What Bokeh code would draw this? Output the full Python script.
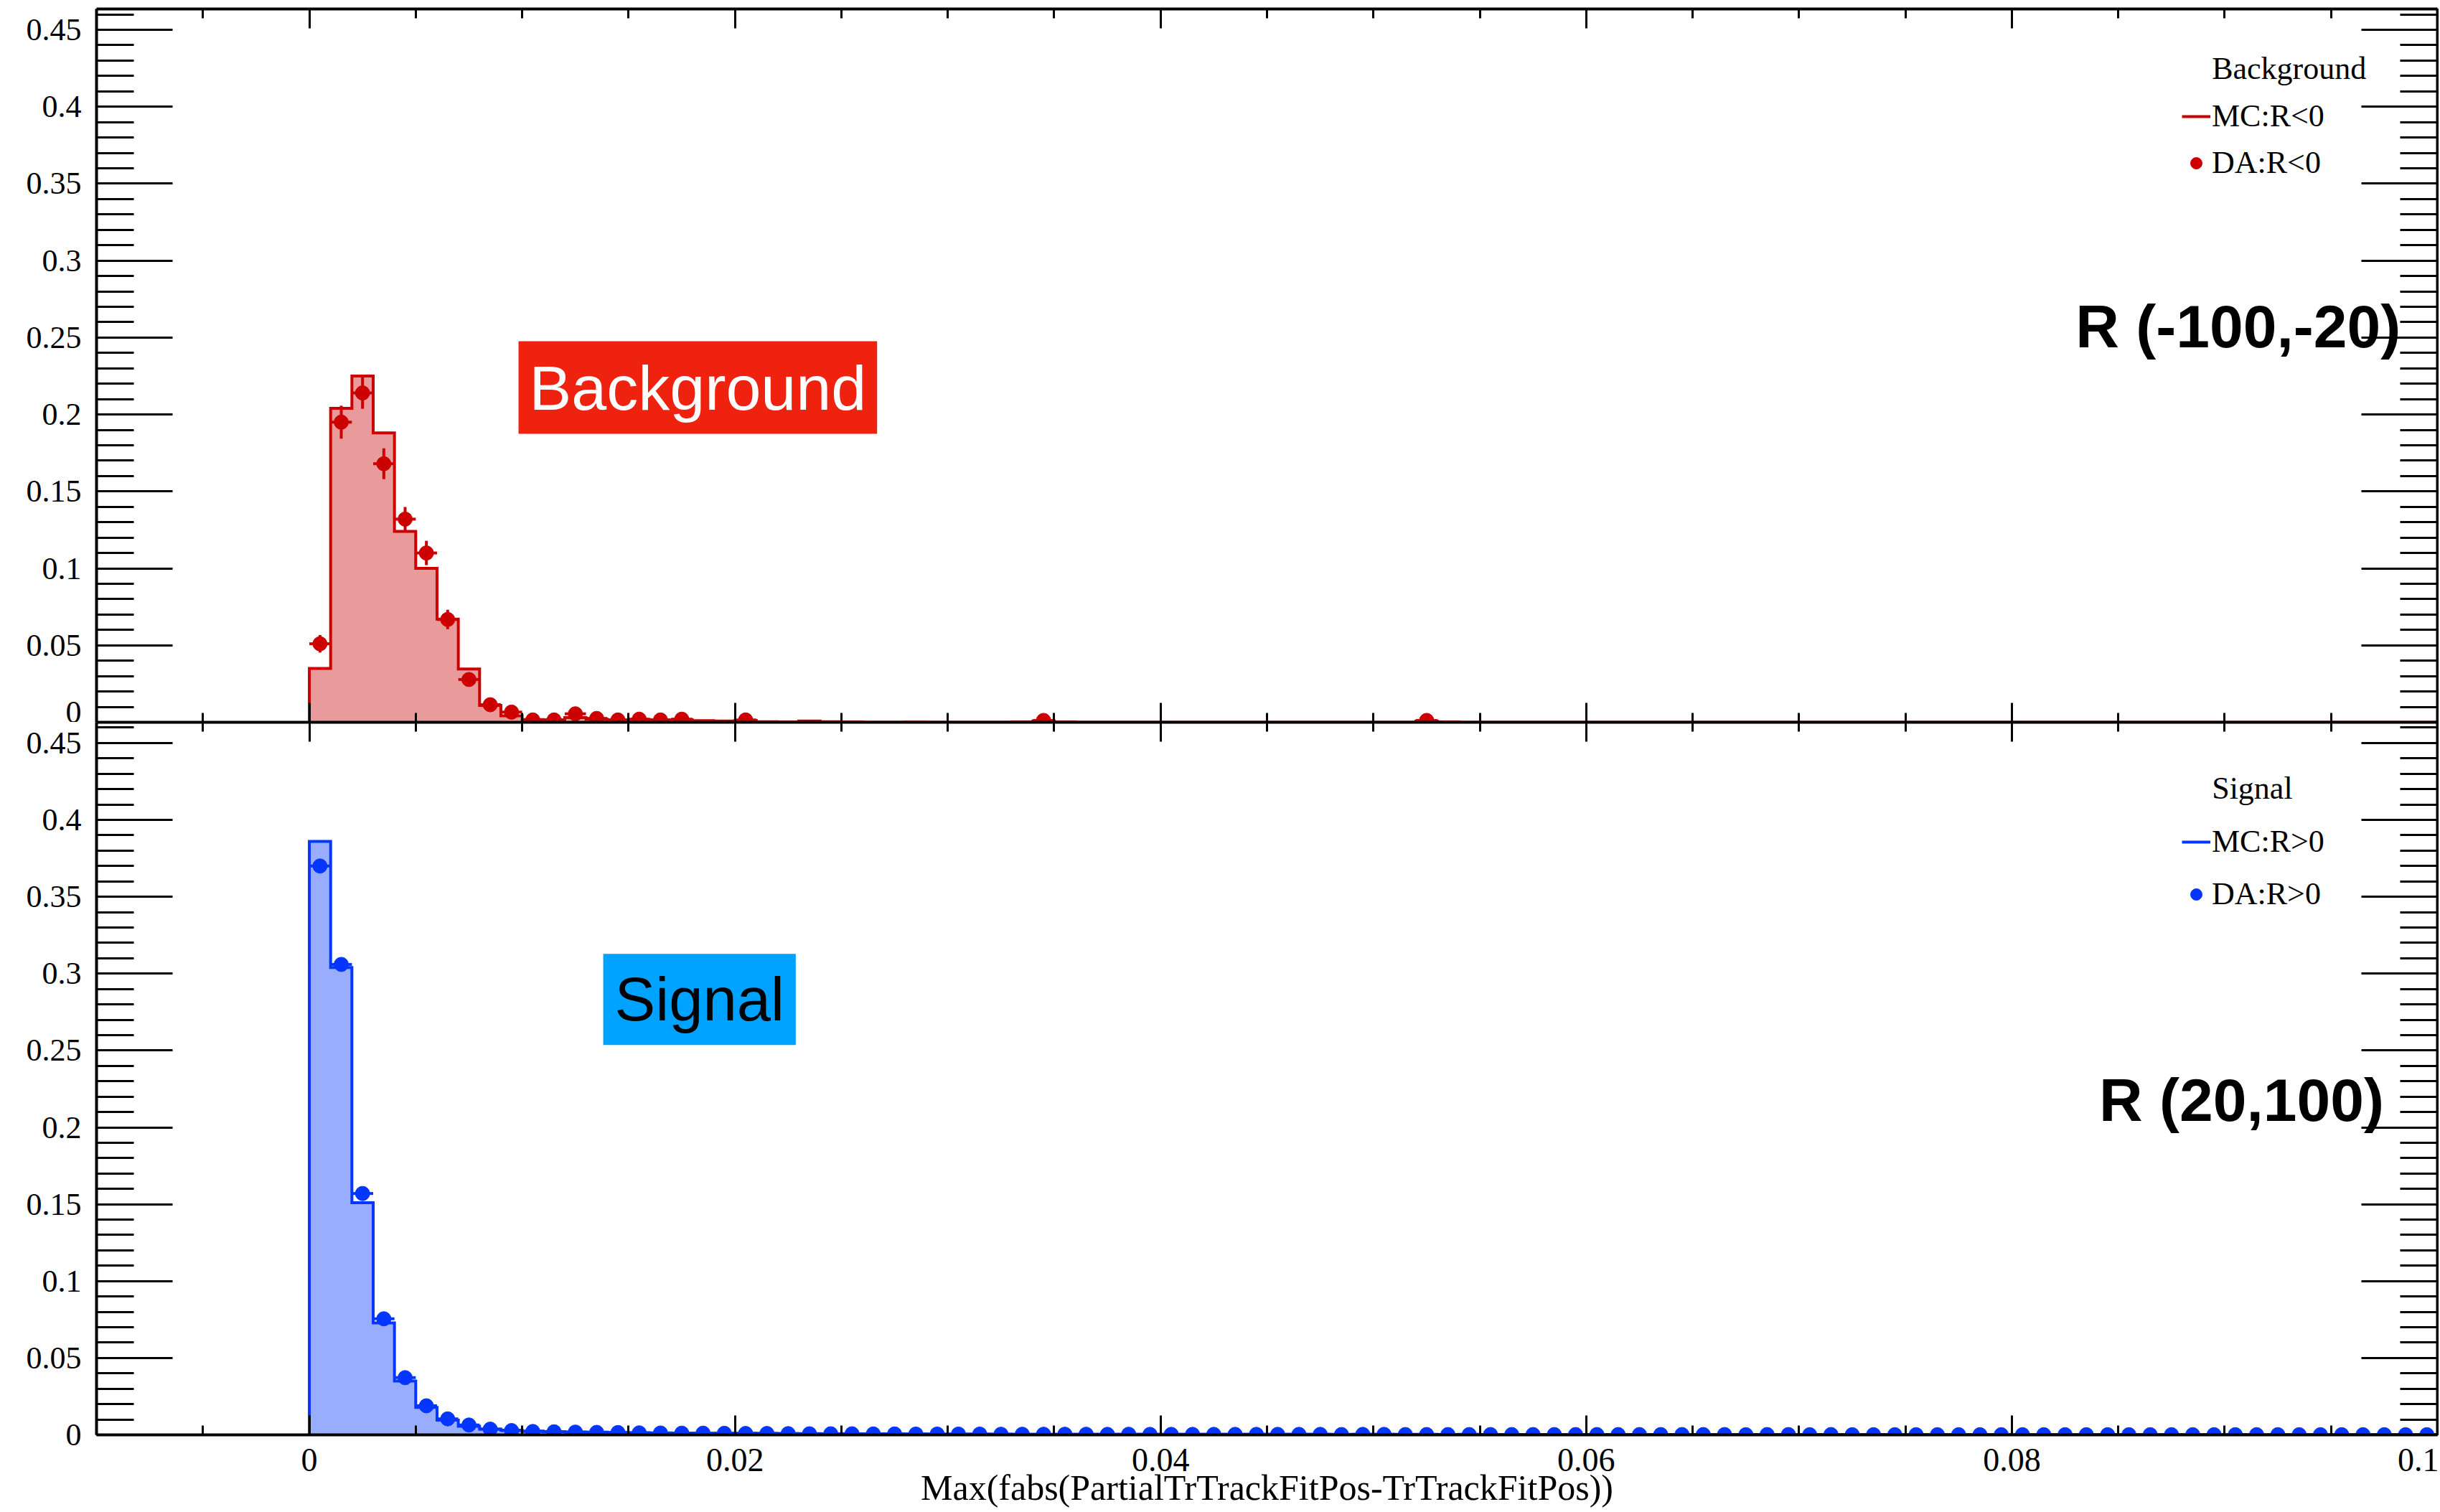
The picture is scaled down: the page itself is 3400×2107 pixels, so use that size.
import numpy as np
from bokeh.plotting import figure
from bokeh.models import Range1d, LinearAxis, FixedTicker, Label, Legend, LegendItem
from bokeh.layouts import column
from bokeh.embed import file_html
from bokeh.resources import INLINE

# ---------------- data ----------------
bin_edges = [round(0.001 * i, 3) for i in range(101)]
bin_centers = [round(0.001 * i + 0.0005, 4) for i in range(100)]

bkg_mc = [
    0.035, 0.204, 0.225, 0.188, 0.124, 0.100, 0.067, 0.0346, 0.0109, 0.0042,
    0.0018, 0.0016, 0.0030, 0.0020, 0.0015, 0.0018, 0.0014, 0.0015, 0.0010, 0.0008,
    0.0012, 0.0003, 0.0002, 0.0008, 0.0004, 0.0002, 0.0, 0.0, 0.0001, 0.0,
    0.0, 0.0, 0.0, 0.0002, 0.0008, 0.0002, 0.0, 0.0, 0.0, 0.0,
    0.0, 0.0, 0.0, 0.0, 0.0, 0.0, 0.0, 0.0, 0.0, 0.0,
    0.0, 0.0, 0.0008, 0.0002, 0.0, 0.0, 0.0, 0.0, 0.0, 0.0,
    0.0, 0.0, 0.0, 0.0, 0.0, 0.0, 0.0, 0.0, 0.0, 0.0,
    0.0, 0.0, 0.0, 0.0, 0.0, 0.0, 0.0, 0.0, 0.0, 0.0,
    0.0, 0.0, 0.0, 0.0, 0.0, 0.0, 0.0, 0.0, 0.0, 0.0,
    0.0, 0.0, 0.0, 0.0, 0.0, 0.0, 0.0, 0.0, 0.0, 0.0,
]
bkg_da_bin = [0, 1, 2, 3, 4, 5, 6, 7, 8, 9, 10, 11, 12, 13, 14, 15, 16, 17, 20, 34, 52]
bkg_da_val = [0.051, 0.195, 0.214, 0.168, 0.132, 0.110, 0.0668, 0.0278, 0.0114, 0.0066,
              0.0015, 0.0015, 0.0055, 0.0025, 0.0015, 0.0020, 0.0015, 0.0020, 0.0015, 0.0012, 0.0012]
bkg_da_err = [0.0057, 0.0107, 0.0103, 0.0100, 0.0079, 0.0079, 0.0063, 0.0040, 0.0025, 0.0020,
              0.0010, 0.0010, 0.0020, 0.0012, 0.0010, 0.0012, 0.0010, 0.0012, 0.0010, 0.0010, 0.0010]

sig_mc = [
    0.386, 0.304, 0.151, 0.0728, 0.035, 0.0179, 0.0096, 0.0056, 0.0037, 0.0030,
    0.0024, 0.0021, 0.0019, 0.0017, 0.0015, 0.0014, 0.0013, 0.0012, 0.0011, 0.0010,
    0.0010, 0.0009, 0.0008, 0.0008, 0.0007, 0.0007, 0.0006, 0.0006, 0.0006, 0.0005,
    0.0005, 0.0005, 0.0005, 0.0004, 0.0004, 0.0004, 0.0004, 0.0004, 0.0004, 0.0003,
    0.0003, 0.0003, 0.0003, 0.0003, 0.0003, 0.0003, 0.0003, 0.0003, 0.0003, 0.0003,
    0.0003, 0.0003, 0.0003, 0.0002, 0.0003, 0.0002, 0.0002, 0.0002, 0.0002, 0.0002,
    0.0002, 0.0002, 0.0002, 0.0002, 0.0002, 0.0002, 0.0002, 0.0002, 0.0002, 0.0002,
    0.0002, 0.0002, 0.0001, 0.0002, 0.0001, 0.0001, 0.0001, 0.0001, 0.0001, 0.0001,
    0.0001, 0.0001, 0.0001, 0.0001, 0.0001, 0.0001, 0.0001, 0.0001, 0.0001, 0.0001,
    0.0001, 0.0001, 0.0001, 0.0001, 0.0001, 0.0001, 0.0001, 0.0001, 0.0001, 0.0001,
]
sig_da = [
    0.370, 0.306, 0.157, 0.0755, 0.0372, 0.0189, 0.0104, 0.0064, 0.0037, 0.0028,
    0.0022, 0.0020, 0.0018, 0.0016, 0.0015, 0.0013, 0.0012, 0.0011, 0.0011, 0.0010,
    0.0009, 0.0009, 0.0008, 0.0007, 0.0007, 0.0007, 0.0006, 0.0006, 0.0005, 0.0005,
    0.0005, 0.0005, 0.0004, 0.0004, 0.0004, 0.0004, 0.0004, 0.0003, 0.0004, 0.0003,
    0.0003, 0.0003, 0.0003, 0.0003, 0.0003, 0.0003, 0.0003, 0.0003, 0.0002, 0.0003,
    0.0003, 0.0002, 0.0002, 0.0002, 0.0002, 0.0002, 0.0002, 0.0002, 0.0002, 0.0002,
    0.0002, 0.0002, 0.0002, 0.0002, 0.0002, 0.0002, 0.0002, 0.0001, 0.0002, 0.0002,
    0.0001, 0.0002, 0.0001, 0.0001, 0.0001, 0.0001, 0.0001, 0.0001, 0.0001, 0.0001,
    0.0001, 0.0001, 0.0001, 0.0001, 0.0001, 0.0001, 0.0001, 0.0001, 0.0001, 0.0001,
    0.0001, 0.0001, 0.0001, 0.0001, 0.0001, 0.0001, 0.0001, 0.0001, 0.0001, 0.0001,
]
sig_da_err_first = [0.0030, 0.0028, 0.0020, 0.0014, 0.0010, 0.0007, 0.0005, 0.0004, 0.0003, 0.0003]

y_ticks = [0, 0.05, 0.1, 0.15, 0.2, 0.25, 0.3, 0.35, 0.4, 0.45]
y_tick_labels = ["0", "0.05", "0.1", "0.15", "0.2", "0.25", "0.3", "0.35", "0.4", "0.45"]
x_ticks = [0, 0.02, 0.04, 0.06, 0.08, 0.1]
x_tick_labels = ["0", "0.02", "0.04", "0.06", "0.08", "0.1"]
x_title = "Max(fabs(PartialTrTrackFitPos-TrTrackFitPos))"

# ---------------- style ----------------
RED_LINE, RED_FILL = "#CC0000", "#E99A9A"
BLUE_LINE, BLUE_FILL = "#0536FF", "#99ADFF"
SERIF = "Liberation Serif"
SANS = "Liberation Sans"

X_RANGE = (-0.01, 0.1)
Y_RANGE = (0.0, 0.4635)
x_minor = [round(v, 3) for v in np.arange(-0.01, 0.1001, 0.005)]
y_minor = [round(v, 3) for v in np.arange(0.0, 0.4601, 0.01)]

FIG_W = 3398


def x_ticker():
    return FixedTicker(ticks=x_ticks, minor_ticks=x_minor)


def y_ticker():
    return FixedTicker(ticks=y_ticks, minor_ticks=y_minor)


def style_axis(ax, major_in, minor_in, labels, font_size="44px", standoff=0):
    ax.major_tick_in = major_in
    ax.major_tick_out = 0
    ax.minor_tick_in = minor_in
    ax.minor_tick_out = 0
    ax.axis_line_width = 4
    ax.axis_line_color = "black"
    ax.major_tick_line_width = 3
    ax.minor_tick_line_width = 3
    ax.major_tick_line_color = "black"
    ax.minor_tick_line_color = "black"
    ax.major_label_standoff = standoff
    if labels:
        ax.major_label_text_font = SERIF
        ax.major_label_text_font_size = font_size
        ax.major_label_text_color = "black"
    else:
        ax.major_label_text_font_size = "0px"
        ax.major_label_text_alpha = 0


def make_panel(height, border_top, border_bottom, x_labels):
    p = figure(width=FIG_W, height=height,
               x_range=Range1d(*X_RANGE), y_range=Range1d(*Y_RANGE),
               output_backend="svg", toolbar_location=None,
               min_border_left=134, min_border_right=2,
               min_border_top=border_top, min_border_bottom=border_bottom)
    p.grid.visible = False
    p.outline_line_color = None
    p.background_fill_color = "white"
    p.border_fill_color = "white"

    xa = p.xaxis[0]
    xa.ticker = x_ticker()
    if x_labels:
        style_axis(xa, 27, 13, True, "46px", standoff=19)
        xa.major_label_overrides = dict(zip(x_ticks, x_tick_labels))
        xa.axis_label = x_title
        xa.axis_label_text_font = SERIF
        xa.axis_label_text_font_size = "50px"
        xa.axis_label_text_font_style = "normal"
        xa.axis_label_text_color = "black"
        xa.axis_label_standoff = -8
    else:
        style_axis(xa, 27, 13, False)

    ya = p.yaxis[0]
    ya.ticker = y_ticker()
    style_axis(ya, 106, 52, True, "44px", standoff=21)
    ya.major_label_overrides = dict(zip(y_ticks, y_tick_labels))

    top_ax = LinearAxis(ticker=x_ticker())
    style_axis(top_ax, 27, 13, False)
    p.add_layout(top_ax, "above")

    right_ax = LinearAxis(ticker=y_ticker())
    style_axis(right_ax, 106, 52, False)
    p.add_layout(right_ax, "right")
    return p


def step_outline(vals):
    v = np.asarray(vals, dtype=float)
    xs = np.repeat(np.asarray(bin_edges), 2)
    ys = np.concatenate([[0.0], np.repeat(v, 2), [0.0]])
    return xs, ys


def draw_hist(p, mc, da_x, da_y, da_err, line_color, fill_color):
    xs, ys = step_outline(mc)
    p.patch(xs, ys, fill_color=fill_color, line_color=None)
    line_r = p.line(xs, ys, line_color=line_color, line_width=4, line_join="miter")
    da_x = np.asarray(da_x)
    da_y = np.asarray(da_y)
    da_err = np.asarray(da_err)
    p.segment(x0=da_x, y0=da_y - da_err, x1=da_x, y1=da_y + da_err,
              line_color=line_color, line_width=4)
    p.segment(x0=da_x - 0.0005, y0=da_y, x1=da_x + 0.0005, y1=da_y,
              line_color=line_color, line_width=4)
    sc_r = p.scatter(da_x, da_y, size=20, marker="circle",
                     fill_color=line_color, line_color=line_color)
    return line_r, sc_r


def add_legend(p, title, title_y, labels, renderers, loc, spacing):
    p.add_layout(Label(x=0.0894, y=title_y, text=title, text_font=SERIF,
                       text_font_size="44px", text_color="black",
                       text_baseline="alphabetic", text_align="left"))
    leg = Legend(items=[LegendItem(label=labels[0], renderers=[renderers[0]]),
                        LegendItem(label=labels[1], renderers=[renderers[1]])],
                 location=loc)
    leg.label_text_font = SERIF
    leg.label_text_font_size = "44px"
    leg.label_text_color = "black"
    leg.glyph_width = 40
    leg.glyph_height = 50
    leg.label_standoff = 2
    leg.spacing = spacing
    leg.padding = 0
    leg.margin = 0
    leg.border_line_color = None
    leg.background_fill_alpha = 0
    p.add_layout(leg)


# ---------------- top panel: background ----------------
p_top = make_panel(1006, 12, 0, False)
bx = [bin_centers[i] for i in bkg_da_bin]
r_line, r_sc = draw_hist(p_top, bkg_mc, bx, bkg_da_val, bkg_da_err, RED_LINE, RED_FILL)
p_top.add_layout(Label(x=0.00983, y=0.2175, text="Background", text_font=SANS,
                       text_font_size="88px", text_color="white",
                       background_fill_color="#EE220E", padding=15,
                       text_baseline="alphabetic", text_align="left"))
p_top.add_layout(Label(x=0.0830, y=0.2573, text="R (-100,-20)", text_font=SANS,
                       text_font_size="84px", text_font_style="bold", text_color="black",
                       text_baseline="alphabetic", text_align="left"))
add_legend(p_top, "Background", 0.4249, ["MC:R<0", "DA:R<0"], [r_line, r_sc], (2906, 754), 14)

# ---------------- bottom panel: signal ----------------
p_bot = make_panel(1099, 0, 106, True)
sig_err = sig_da_err_first + [0.0001] * (len(sig_da) - len(sig_da_err_first))
b_line, b_sc = draw_hist(p_bot, sig_mc, bin_centers, sig_da, sig_err, BLUE_LINE, BLUE_FILL)
p_bot.add_layout(Label(x=0.01381, y=0.2832, text="Signal", text_font=SANS,
                       text_font_size="85px", text_color="black",
                       background_fill_color="#00A2FF", padding=16,
                       text_baseline="alphabetic", text_align="left"))
p_bot.add_layout(Label(x=0.0841, y=0.2177, text="R (20,100)", text_font=SANS,
                       text_font_size="84px", text_font_style="bold", text_color="black",
                       text_baseline="alphabetic", text_align="left"))
add_legend(p_bot, "Signal", 0.4205, ["MC:R>0", "DA:R>0"], [b_line, b_sc], (2906, 728), 22)

layout = column(p_top, p_bot, spacing=0)
open("out.html", "w").write(file_html(layout, INLINE))
